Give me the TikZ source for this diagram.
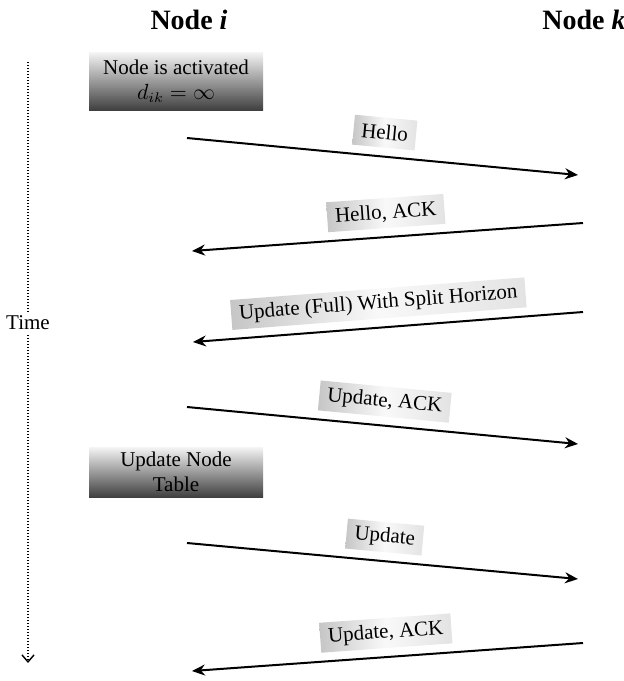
\documentclass[tikz,border=0pt]{standalone}
\usepackage{fontspec}
\setmainfont{Liberation Serif}
\usepackage{amsmath}
\usetikzlibrary{arrows.meta, positioning}

\begin{document}
\begin{tikzpicture}[x=0.5pt, y=-0.5pt,
    every node/.style={font=\fontsize{10.5}{12.5}\selectfont},
    hdr/.style={font=\fontsize{14}{16}\selectfont\bfseries},
    stepbox/.style={top color=gray!8, bottom color=black!75, minimum width=87pt, align=center, inner sep=2pt},
    tag/.style={left color=gray!45, right color=gray!22, middle color=gray!5, inner xsep=4pt, inner ysep=2pt, minimum height=15pt, sloped, above=4pt},
    msg/.style={line width=1pt, >={Stealth[length=6.5pt, width=5.5pt]}}]
    \useasboundingbox (0,0) rectangle (624,681);

    % headers of the two nodes
    \node[hdr] (ni) at (189,20) {Node \textit{i}};
    \node[hdr] (nk) at (584,20) {Node \textit{k}};

    % state boxes on the i side
    \node[stepbox, minimum height=29pt] (act) at (176,81) {Node is activated\\ $d_{ik}=\infty$};
    \node[stepbox, minimum height=25pt] (upd) at (176,472) {Update Node\\ Table};

    % time axis
    \coordinate (t0) at (28,62);
    \coordinate (t1) at (28,663);
    \draw[line width=0.7pt, dash pattern=on 0.7pt off 0.8pt, -{Straight Barb[length=3.5pt, width=6pt]}] (t0) -- (t1);
    \node[fill=white, inner sep=1.5pt] (time) at (28,323) {Time};

    % end points on the i side and the k side
    \coordinate (i1) at (187,138); \coordinate (k1) at (578,175);
    \coordinate (i2) at (192,251); \coordinate (k2) at (583,223);
    \coordinate (i3) at (193,342); \coordinate (k3) at (583,312);
    \coordinate (i4) at (187,407); \coordinate (k4) at (578,444);
    \coordinate (i5) at (187,543); \coordinate (k5) at (578,579);
    \coordinate (i6) at (192,671); \coordinate (k6) at (583,643);

    % messages
    \draw[msg, ->] (i1) -- node[tag] (hello) {Hello} (k1);
    \draw[msg, <-] (i2) -- node[tag] (helloack) {Hello, ACK} (k2);
    \draw[msg, <-] (i3) -- node[tag, pos=0.48] (full) {Update (Full) With Split Horizon} (k3);
    \draw[msg, ->] (i4) -- node[tag] (updack) {Update, ACK} (k4);
    \draw[msg, ->] (i5) -- node[tag] (update) {Update} (k5);
    \draw[msg, <-] (i6) -- node[tag] (lastack) {Update, ACK} (k6);
\end{tikzpicture}
\end{document}
